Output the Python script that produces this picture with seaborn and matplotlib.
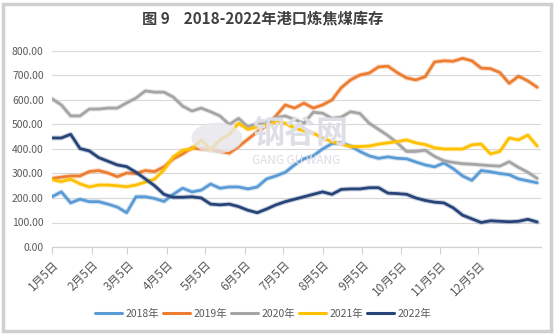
import numpy as np
import pandas as pd
import matplotlib
matplotlib.use("Agg")
import matplotlib.pyplot as plt
import matplotlib.dates as mdates
import matplotlib.patheffects as pe
from matplotlib.patches import Rectangle, Circle
import seaborn as sns

# Port coking-coal inventory (10k t), roughly weekly samples from Jan 5
years = ["2018年", "2019年", "2020年", "2021年", "2022年"]

inv_2018 = [205, 225, 180, 195, 185, 185, 175, 163, 140, 205, 205, 198, 186, 215, 240, 225,
            232, 257, 240, 245, 245, 237, 245, 278, 290, 305, 335, 360, 372, 400, 422, 425,
            412, 390, 372, 362, 368, 362, 360, 347, 335, 327, 343, 320, 290, 272, 312, 307,
            300, 295, 278, 270, 262]
inv_2019 = [280, 285, 290, 290, 308, 312, 302, 287, 302, 300, 312, 308, 327, 360, 380, 405,
            400, 397, 390, 383, 410, 440, 470, 495, 535, 580, 567, 587, 567, 580, 600, 650,
            682, 702, 710, 735, 738, 712, 690, 682, 695, 755, 760, 758, 770, 760, 730, 728,
            712, 668, 697, 678, 652]
inv_2020 = [605, 580, 535, 535, 563, 563, 567, 567, 588, 608, 637, 632, 632, 612, 575, 555,
            567, 552, 535, 500, 525, 490, 505, 510, 527, 535, 520, 505, 550, 546, 525, 530,
            552, 545, 505, 480, 455, 425, 390, 390, 395, 370, 352, 345, 340, 338, 335, 332,
            330, 348, 325, 305, 280]
inv_2021 = [275, 267, 277, 258, 245, 253, 253, 250, 246, 253, 265, 277, 315, 368, 395, 400,
            437, 397, 437, 460, 505, 480, 490, 495, 510, 505, 485, 475, 465, 445, 430, 420,
            410, 410, 412, 420, 425, 430, 437, 425, 418, 405, 400, 400, 400, 417, 420, 380,
            390, 445, 437, 457, 412]
inv_2022 = [445, 445, 460, 402, 392, 365, 350, 335, 328, 305, 278, 250, 215, 203, 203, 205,
            200, 175, 172, 175, 165, 150, 140, 155, 172, 185, 195, 205, 215, 225, 215, 235,
            237, 237, 242, 242, 220, 218, 215, 200, 190, 183, 180, 160, 130, 115, 100, 107,
            105, 103, 105, 113, 102]

month_labels = [f"{m}月5日" for m in range(1, 13)]
colors = ["#5B9BD5", "#ED7D31", "#A5A5A5", "#FFC000", "#264478"]

dates = pd.date_range("2022-01-05", "2023-01-20", periods=len(inv_2018))
series = [inv_2018, inv_2019, inv_2020, inv_2021, inv_2022]
df = pd.concat(
    [pd.DataFrame({"date": dates, "value": v, "year": y}) for y, v in zip(years, series)],
    ignore_index=True,
)

sns.set_theme(style="white")
plt.rcParams["font.family"] = ["Noto Sans CJK SC", "DejaVu Sans"]

fig = plt.figure(figsize=(5.54, 3.35), dpi=100)
ax = fig.add_axes([52 / 554, 88 / 335, 489 / 554, 196 / 335])

# faint site watermark behind the lines
fig.patches.append(Circle((217 / 554, 1 - 138 / 335), 0.046, transform=fig.transFigure,
                          facecolor="#e6e6ec", edgecolor="none", alpha=0.8, zorder=0.5))
fig.text(252 / 554, 1 - 134 / 335, "钢谷网", fontsize=23, color="#dedee6",
         va="center", ha="left", fontweight="bold", zorder=0.6)
fig.text(252 / 554, 1 - 161 / 335, "GANG GU WANG", fontsize=8.5, color="#dcdce4",
         va="center", ha="left", zorder=0.6)
ax.set_facecolor("none")

sns.lineplot(data=df, x="date", y="value", hue="year", palette=colors,
             linewidth=2.0, ax=ax, legend=False, zorder=3)
for line in ax.get_lines():
    line.set_path_effects([pe.Stroke(linewidth=3.6, foreground=line.get_color(), alpha=0.25),
                           pe.Normal()])

ax.set_ylim(0, 800)
ax.set_yticks(range(0, 801, 100))
ax.set_yticklabels([f"{v:.2f}" for v in range(0, 801, 100)])
ax.set_xlim(pd.Timestamp("2022-01-05"), pd.Timestamp("2023-01-23"))
tick_dates = [pd.Timestamp(f"2022-{m:02d}-05") for m in range(1, 13)]
ax.set_xticks(tick_dates)
ax.set_xticklabels(month_labels, rotation=45, ha="right", rotation_mode="anchor",
                   fontweight="medium")

ax.grid(axis="y", color="#d9d9d9", linewidth=0.8)
ax.grid(axis="x", visible=False)
for s in ["top", "right", "left"]:
    ax.spines[s].set_visible(False)
ax.spines["bottom"].set_color("#d0d0d0")
ax.spines["bottom"].set_linewidth(0.9)
ax.tick_params(axis="y", length=0, labelsize=7.5, labelcolor="#595959", pad=6)
ax.tick_params(axis="x", length=5, width=0.8, color="#d0d0d0", direction="out",
               labelsize=8.5, labelcolor="#595959", pad=3, bottom=True)
ax.set_xlabel("")
ax.set_ylabel("")

handles = [plt.Line2D([0], [0], color=c, linewidth=2.2) for c in colors]
fig.legend(handles, years, loc="center", bbox_to_anchor=(263 / 554, 1 - 314 / 335),
           ncol=5, frameon=False, fontsize=7.5, handlelength=2.6, handletextpad=0.3,
           columnspacing=0.4, labelcolor="#595959")

fig.text(263 / 554, 1 - 18 / 335, "图 9    2018-2022年港口炼焦煤库存", ha="center", va="center",
         fontsize=11, fontweight="bold", color="#404040")

fig.patches.append(Rectangle((0.006, 0.012), 0.988, 0.976, transform=fig.transFigure,
                             facecolor="none", edgecolor="#cfcfcf", linewidth=2.5, zorder=10))

fig.savefig("out.png", dpi=100)
